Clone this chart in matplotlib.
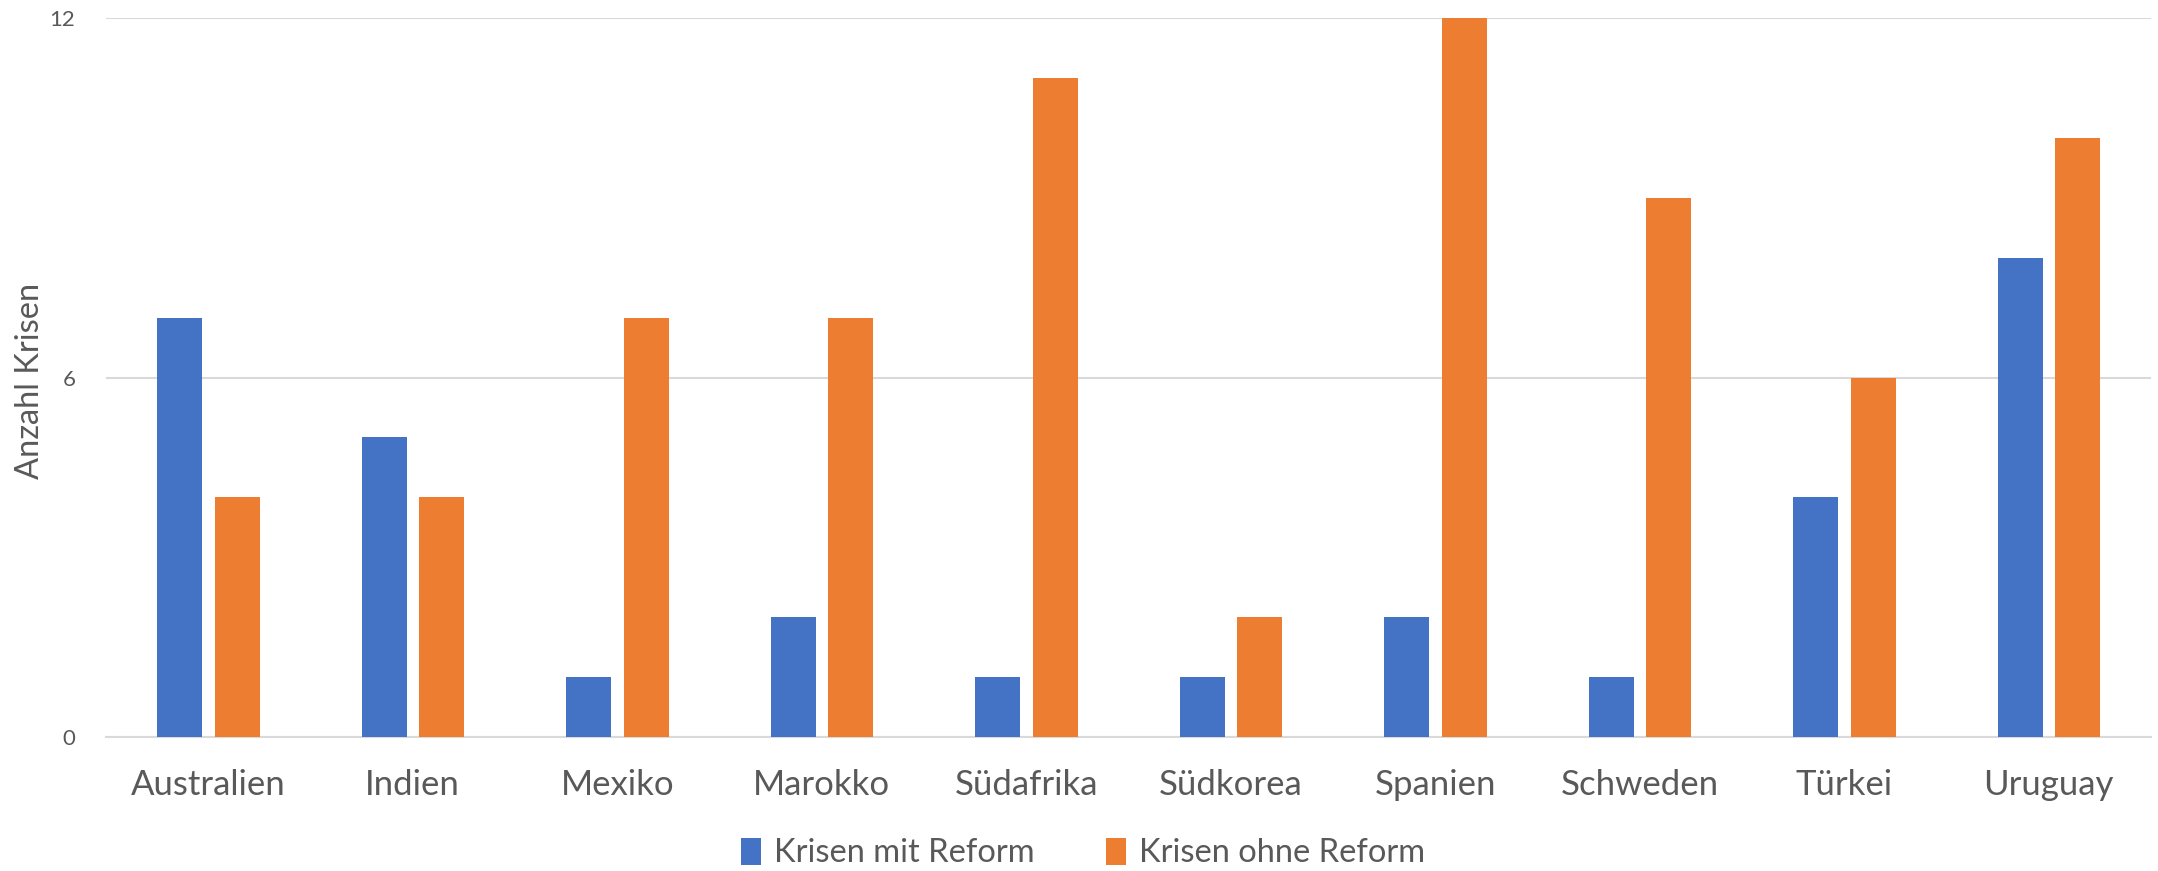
import matplotlib
matplotlib.use("Agg")
import matplotlib.pyplot as plt
import numpy as np

categories = ["Australien", "Indien", "Mexiko", "Marokko", "Südafrika",
              "Südkorea", "Spanien", "Schweden", "Türkei", "Uruguay"]
mit_reform = [7, 5, 1, 2, 1, 1, 2, 1, 4, 8]
ohne_reform = [4, 4, 7, 7, 11, 2, 12, 9, 6, 10]
yticks = [0, 6, 12]

plt.rcParams['font.family'] = ['Lato', 'DejaVu Sans']
txt = '#595959'

fig = plt.figure(figsize=(21.58, 8.71), dpi=100)
ax = fig.add_axes([106/2158, 1-737/871, (2151-106)/2158, (737-18)/871])

x = np.arange(len(categories))
w = 0.22
ax.bar(x - 0.14, mit_reform, w, color='#4472C4', label='Krisen mit Reform', zorder=3)
ax.bar(x + 0.143, ohne_reform, w, color='#ED7D31', label='Krisen ohne Reform', zorder=3)

ax.set_xlim(-0.5, len(categories) - 0.5)
ax.set_ylim(0, 12)
ax.set_yticks(yticks)
ax.set_yticklabels([str(t) for t in yticks], fontsize=16, color=txt)
ax.set_xticks(x)
ax.set_xticklabels(categories, fontsize=25, color=txt)
ax.tick_params(axis='both', length=0)
ax.tick_params(axis='y', pad=22)
ax.tick_params(axis='x', pad=23)
ax.grid(axis='y', color='#D9D9D9', linewidth=1.5, zorder=0)
for s in ['top', 'right', 'left']:
    ax.spines[s].set_visible(False)
ax.spines['bottom'].set_color('#D9D9D9')
ax.spines['bottom'].set_linewidth(1.5)

fig.text(30/2158, 1-(277*1.376)/871, 'Anzahl Krisen', rotation=90, fontsize=23.5,
         color=txt, ha='center', va='center')

leg = fig.legend(loc='center', bbox_to_anchor=(0.502, 1-853/871), ncol=2, frameon=False,
                 fontsize=23.5, handlelength=0.6, handleheight=0.9, columnspacing=2.2,
                 handletextpad=0.4)
for t in leg.get_texts():
    t.set_color(txt)

fig.savefig('out.png', dpi=100, facecolor='white')
